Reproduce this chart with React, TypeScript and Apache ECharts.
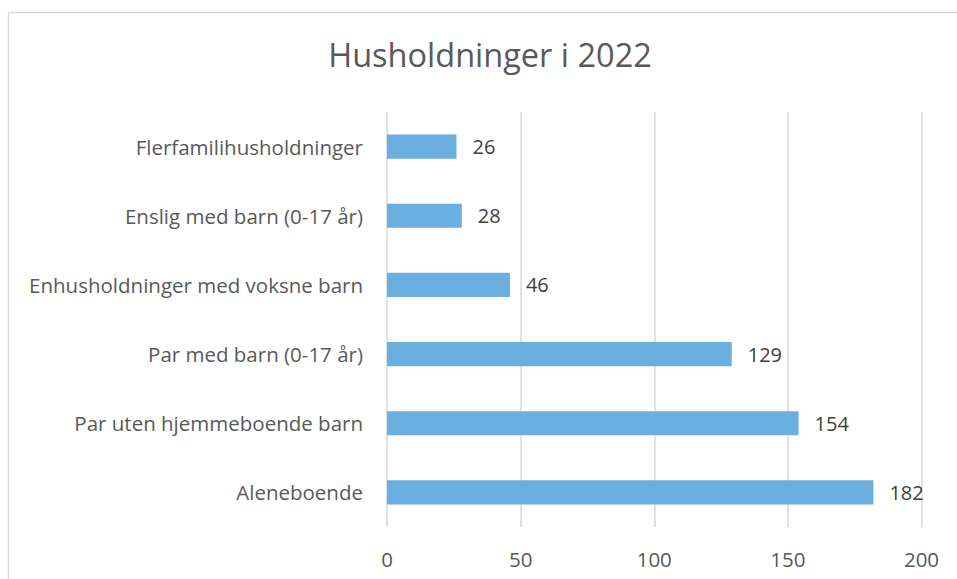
import React, { useEffect, useRef } from "react";
import * as echarts from "echarts";

const categories = [
  "Aleneboende",
  "Par uten hjemmeboende barn",
  "Par med barn (0-17 år)",
  "Enhusholdninger med voksne barn",
  "Enslig med barn (0-17 år)",
  "Flerfamilihusholdninger",
];
const values = [182, 154, 129, 46, 28, 26];
const xTicks = { min: 0, max: 200, interval: 50 };
const title = "Husholdninger i 2022";

export default function App() {
  const ref = useRef<HTMLDivElement>(null);
  useEffect(() => {
    document.body.style.margin = "0";
    const chart = echarts.init(ref.current!, undefined, { renderer: "svg" });
    const font = "'Open Sans', 'Noto Sans', sans-serif";
    chart.setOption({
      animation: false,
      backgroundColor: "#ffffff",
      title: {
        text: title,
        left: 485,
        top: 33,
        textAlign: "center",
        textStyle: { fontFamily: font, fontSize: 32.5, fontWeight: "normal", color: "#595959" },
      },
      graphic: [
        {
          type: "rect",
          shape: { x: 8.5, y: 12.5, width: 1000, height: 700 },
          style: { fill: "none", stroke: "#d9d9d9", lineWidth: 1.5 },
          silent: true,
        },
      ],
      grid: { left: 387, right: 35.5, top: 112, bottom: 52, containLabel: false },
      xAxis: {
        type: "value",
        min: xTicks.min,
        max: xTicks.max,
        interval: xTicks.interval,
        axisLine: { show: false },
        axisTick: { show: false },
        splitLine: { show: true, lineStyle: { color: "#d9d9d9", width: 1.5 } },
        axisLabel: { fontFamily: font, fontSize: 20.5, color: "#595959", margin: 21 },
      },
      yAxis: {
        type: "category",
        data: categories,
        axisLine: { show: false },
        axisTick: { show: false },
        axisLabel: { fontFamily: font, fontSize: 20.5, color: "#595959", margin: 24 },
      },
      series: [
        {
          type: "bar",
          data: values,
          barCategoryGap: "65%",
          itemStyle: { color: "#6aafe0" },
          label: {
            show: true,
            position: "right",
            distance: 16,
            fontFamily: font,
            fontSize: 20,
            color: "#404040",
          },
        },
      ],
    });
    return () => chart.dispose();
  }, []);
  return <div ref={ref} style={{ width: 957, height: 579 }} />;
}
